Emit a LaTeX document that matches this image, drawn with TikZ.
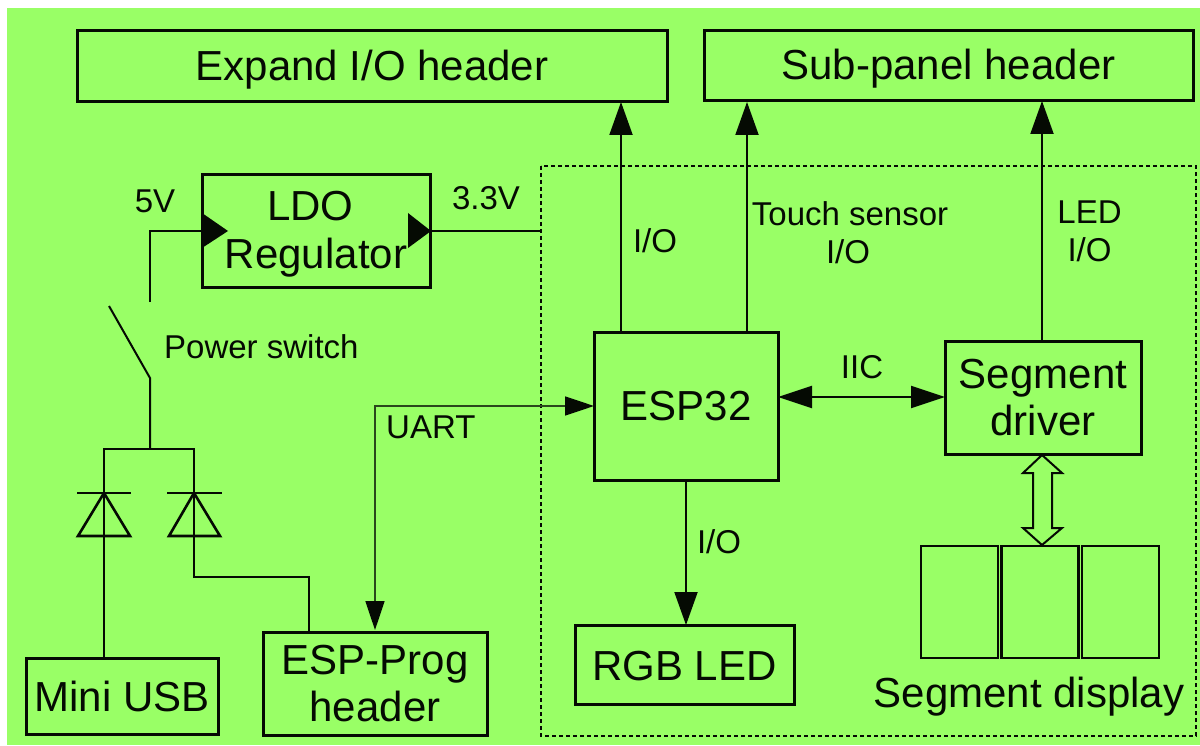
\documentclass[tikz,border=0pt]{standalone}
\usepackage{fontspec}
\setmainfont{Liberation Sans}
\usetikzlibrary{arrows.meta}
\definecolor{bggreen}{HTML}{99FF66}
\definecolor{ink}{HTML}{050A03}
\tikzset{
  x=1pt,y=-1pt,
  boxn/.style={draw=ink,line width=3pt,inner sep=0pt,outer sep=0pt,anchor=north west,align=center,text=ink},
  lbl/.style={inner sep=0pt,text=ink,align=center,font=\fontsize{33}{38}\selectfont},
  big/.style={font=\fontsize{42}{47}\selectfont},
  wire/.style={draw=ink,line width=2pt},
  wirethin/.style={draw=ink!75!bggreen,line width=1.7pt},
  tip/.style={-{Triangle[length=33pt,width=23pt,color=ink]}},
  dio/.style={draw=ink,line width=2.6pt,line join=miter},
}
\newcommand{\mybox}[6]{\node[boxn,big,minimum width=#4*1pt-#2*1pt,minimum height=#5*1pt-#3*1pt] (#1) at (#2,#3) {#6};}
\newcommand{\basedrop}[2]{\raisebox{#1}[0pt][0pt]{#2}}
\begin{document}
\begin{tikzpicture}
\useasboundingbox (0,0) rectangle (1200,746);
\fill[white] (0,0) rectangle (1200,746);
\fill[bggreen] (7,8) rectangle (1200,745);
\draw[ink,line width=2pt,dash pattern=on 4pt off 3pt] (541,166) rectangle (1196,736);

\mybox{expand}{77}{31}{667}{102}{\basedrop{-14.5pt}{Expand I/O header}}
\mybox{sub}{704}{31}{1193}{101}{\basedrop{-14pt}{Sub-panel header}}
\mybox{ldo}{202}{175}{430}{288}{\basedrop{10.5pt}{\begin{tabular}[t]{@{}c@{}}\hspace*{-11pt}LDO\\[1pt]Regulator\end{tabular}}}
\mybox{esp}{594}{332}{778}{480}{ESP32}
\mybox{seg}{945}{341}{1141}{454}{Segment\\driver}
\mybox{rgb}{575}{625}{794}{704}{\basedrop{-15.5pt}{RGB LED}}
\mybox{prog}{263}{632}{487}{735}{ESP-Prog\\header}
\mybox{usb}{26}{658}{218}{734}{Mini USB}
\node[boxn,line width=2.6pt,minimum width=77pt,minimum height=112pt] (d1) at (921,546) {};
\node[boxn,line width=2.6pt,minimum width=77pt,minimum height=112pt] (d2) at (1001.5,546) {};
\node[boxn,line width=2.6pt,minimum width=77pt,minimum height=112pt] (d3) at (1082,546) {};

\coordinate (ioUp) at (621,332);
\coordinate (ioTop) at (621,102);
\coordinate (tsUp) at (747,332);
\coordinate (tsTop) at (747,102);
\coordinate (ledUp) at (1042,341);
\coordinate (ledTop) at (1042,101);
\coordinate (swTop) at (150,302);
\coordinate (swPiv) at (150,378);
\coordinate (swEnd) at (109,306);
\coordinate (junc) at (150,449);
\coordinate (dl) at (104,449);
\coordinate (dr) at (194,449);

\draw[wire,tip] (ioUp) -- (ioTop);
\draw[wire,tip] (tsUp) -- (tsTop);
\draw[wire,tip] (ledUp) -- (ledTop);
\draw[wire,tip] (esp.south) -- (esp.south |- rgb.north);
\draw[wire,{Triangle[length=34pt,width=22pt,color=ink]}-{Triangle[length=34pt,width=22pt,color=ink]}] (esp.east |- 0,397) -- (seg.west |- 0,397);

% power
\draw[wire] (swTop) -- (150,231) -- (202,231);
\fill[ink] (202,213) -- (228,231) -- (202,248) -- cycle;
\fill[ink] (408,213) -- (431,231) -- (408,248) -- cycle;
\draw[wire] (430,231) -- (541,231);
\draw[wire] (swEnd) -- (swPiv) -- (junc);
\draw[wire,line cap=rect] (dl) -- (dr);

% left diode
\draw[wire] (dl) -- (104,658);
\draw[dio] (77,493) -- (131,493);
\draw[dio] (104,493) -- (130,536) -- (78,536) -- cycle;
% right diode
\draw[wire] (dr) -- (194,577) -- (309,577) -- (309,632);
\draw[dio] (167,493) -- (222,493);
\draw[dio] (194,493) -- (220,536) -- (169,536) -- cycle;

% UART
\draw[wirethin,{Triangle[length=29pt,width=19pt,color=ink]}-{Triangle[length=29pt,width=19pt,color=ink]}] (375,630) -- (375,406) -- (esp.west |- 0,406);

% hollow double arrow
\draw[ink,line width=2pt,fill=bggreen,line join=miter] (1042,455) -- (1062,473) -- (1052,473) -- (1052,528) -- (1062,528) -- (1042,545) -- (1023,528) -- (1033,528) -- (1033,473) -- (1023,473) -- cycle;

% labels
\node[lbl] (t5v) at (155,201) {5V};
\node[lbl] (t33) at (486,198) {3.3V};
\node[lbl,anchor=west] (tps) at (164,347) {Power switch};
\node[lbl,anchor=west] (tu) at (386,427) {UART};
\node[lbl] (tio) at (655,241) {I/O};
\node[lbl] (tts) at (850,233) {Touch sensor\\\hspace*{-4pt}I/O};
\node[lbl] (tled) at (1089.5,231) {LED\\I/O};
\node[lbl] (tiic) at (862,367) {IIC};
\node[lbl] (tio2) at (719,542) {I/O};
\node[lbl,big] (tsd) at (1029,697) {Segment display};
\end{tikzpicture}
\end{document}
